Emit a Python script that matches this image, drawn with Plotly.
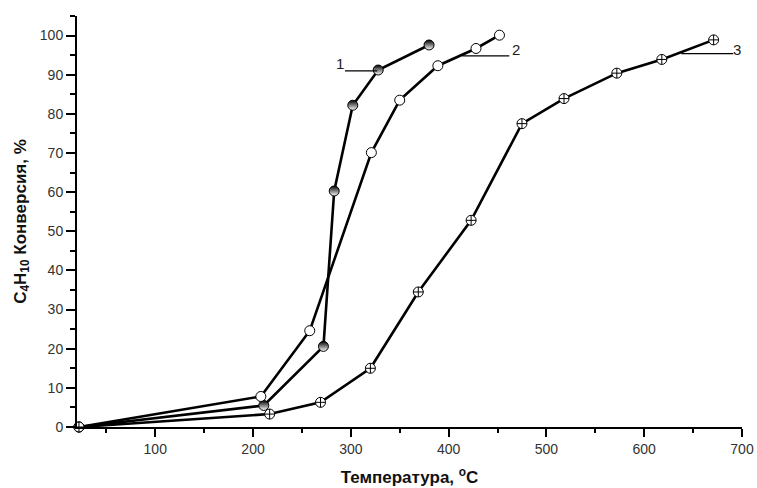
import plotly.graph_objects as go

# Data
t1 = [22, 211, 272, 283, 302, 328, 380]
c1 = [0, 5.5, 20.6, 60.3, 82.2, 91.2, 97.6]

t2 = [22, 208, 258, 321, 350, 389, 428, 452]
c2 = [0, 7.8, 24.6, 70.1, 83.5, 92.3, 96.7, 100.1]

t3 = [22, 217, 269, 320, 369, 423, 475, 518, 572, 618, 671]
c3 = [0, 3.3, 6.3, 15.0, 34.5, 52.8, 77.5, 83.9, 90.4, 93.9, 98.9]

curve_labels = ["1", "2", "3"]

font_family = "Liberation Sans, Arial, sans-serif"

fig = go.Figure()

# lines first
for xs, ys in [(t1, c1), (t2, c2), (t3, c3)]:
    fig.add_trace(go.Scatter(x=xs, y=ys, mode="lines",
                             line=dict(color="black", width=2.6),
                             cliponaxis=False, showlegend=False, hoverinfo="skip"))

# markers
fig.add_trace(go.Scatter(x=t1, y=c1, mode="markers", cliponaxis=False, showlegend=False,
                         marker=dict(symbol="circle", size=10, color="black",
                                     gradient=dict(type="vertical", color="white"),
                                     line=dict(color="black", width=1))))
fig.add_trace(go.Scatter(x=t2, y=c2, mode="markers", cliponaxis=False, showlegend=False,
                         marker=dict(symbol="circle", size=10, color="white",
                                     line=dict(color="black", width=1))))
fig.add_trace(go.Scatter(x=t3, y=c3, mode="markers", cliponaxis=False, showlegend=False,
                         marker=dict(symbol="circle-cross", size=10, color="white",
                                     line=dict(color="black", width=1))))

# label leader lines and numbers
leaders = [
    dict(x0=294, x1=327, y=91.0, tx=289, ty=92.9),
    dict(x0=414, x1=462, y=94.8, tx=469, ty=96.5),
    dict(x0=638, x1=691, y=95.4, tx=695, ty=96.5),
]
for lab, ld in zip(curve_labels, leaders):
    fig.add_shape(type="line", x0=ld["x0"], x1=ld["x1"], y0=ld["y"], y1=ld["y"],
                  xref="x", yref="y", line=dict(color="black", width=1.3), layer="above")
    fig.add_annotation(x=ld["tx"], y=ld["ty"], text=lab, showarrow=False,
                       xref="x", yref="y", font=dict(family=font_family, size=15, color="#222"))

fig.update_layout(
    width=757, height=488,
    margin=dict(l=77, r=15, t=16, b=61),
    plot_bgcolor="white", paper_bgcolor="white",
    font=dict(family=font_family, size=14, color="#333"),
)

fig.update_xaxes(
    range=[20, 700], tick0=0, dtick=100, automargin=False,
    showgrid=False, zeroline=False,
    showline=True, linecolor="black", linewidth=2,
    ticks="outside", ticklen=8, tickwidth=2, tickcolor="black",
    minor=dict(dtick=50, ticks="outside", ticklen=4, tickwidth=2, tickcolor="black", showgrid=False),
    tickfont=dict(size=14, color="#333"),
    title=dict(text="<b>Температура, <sup>o</sup>C</b>", font=dict(size=17, color="#111"), standoff=15),
)
fig.update_yaxes(
    range=[0, 105], tick0=0, dtick=10, automargin=False,
    showgrid=False, zeroline=False,
    showline=True, linecolor="black", linewidth=2,
    ticks="outside", ticklen=9, tickwidth=2, tickcolor="black",
    minor=dict(dtick=5, ticks="outside", ticklen=5, tickwidth=2, tickcolor="black", showgrid=False),
    tickfont=dict(size=14, color="#333"),
    title=dict(text="<b>C<sub>4</sub>H<sub>10</sub> Конверсия, %</b>", font=dict(size=17, color="#111"), standoff=9),
)

fig.write_html("out.html")
